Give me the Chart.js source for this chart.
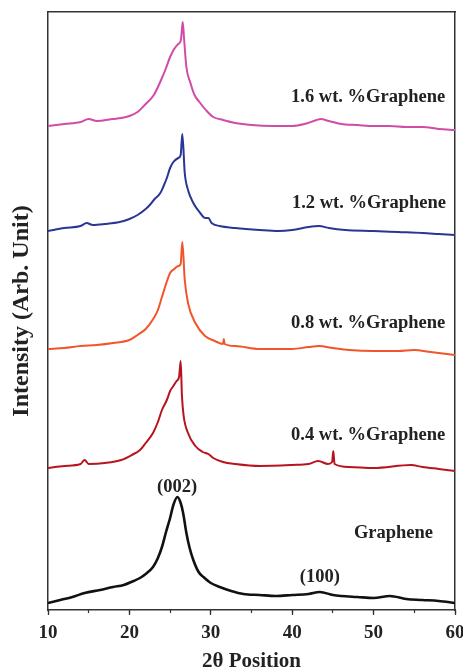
<!DOCTYPE html>
<html>
<head>
<meta charset="utf-8">
<script src="https://cdn.jsdelivr.net/npm/chart.js@4.4.1/dist/chart.umd.min.js"></script>
<style>
  html, body { margin: 0; padding: 0; background: #fff; }
</style>
</head>
<body>
<canvas id="xrdChart" width="463" height="672"></canvas>
<script>
// XRD patterns, stacked (arbitrary intensity units, offsets included)
const theta_16 = [10, 12, 14, 15, 16, 18, 19, 20, 21, 22, 23, 24, 24.5, 25, 25.5, 26, 26.3, 26.45, 26.55, 26.7, 27, 27.5, 28, 28.7, 29.5, 30.3, 31.5, 33, 35, 37.5, 40, 41.5, 43, 43.5, 44.5, 46, 48, 50, 52, 54, 56, 58, 60];
const int_16 = [484, 486, 488, 491, 489, 491, 492, 494, 498, 506, 515, 532, 542, 553, 561, 566, 569, 580, 588, 573, 543, 527, 515, 507, 499, 493, 490, 487, 485, 484, 484, 486, 490, 491, 489, 486, 485, 484, 484, 483, 483, 481, 480];

const theta_12 = [10, 12, 14, 14.75, 15.5, 17, 18.8, 20, 21, 22, 22.5, 23, 23.8, 24.2, 24.6, 25, 25.4, 26, 26.3, 26.5, 26.8, 27.2, 27.85, 28.7, 29.3, 29.7, 30.1, 31.1, 33, 36, 38.3, 40, 42, 43.3, 44.5, 46.5, 50, 53, 56, 58, 60];
const int_12 = [379, 382, 384, 387, 385, 386, 388, 391, 395, 401, 405, 410, 417, 424, 432, 442, 448, 452, 455, 476, 437, 420, 407, 397, 392, 392, 387, 384, 382, 380, 379, 380, 383, 384, 382, 380, 379, 378, 377, 376, 375];

const theta_08 = [10, 12, 14, 16, 18, 20, 21, 22, 23, 23.5, 24, 24.5, 25, 25.5, 26, 26.3, 26.5, 26.8, 27.2, 28.1, 29.3, 30.5, 31.5, 31.6, 31.7, 33, 36, 40, 42, 43.3, 45, 47, 50, 53, 55, 57, 60];
const int_08 = [261, 262, 264, 265, 267, 270, 275, 281, 292, 300, 313, 326, 337, 341, 344, 346, 368, 330, 307, 287, 274, 269, 266, 271, 266, 264, 261, 261, 263, 264, 262, 260, 259, 259, 260, 258, 255];

const theta_04 = [10, 12, 14, 14.5, 15, 17, 19, 20.3, 21.3, 22, 22.9, 23.5, 24, 24.6, 25, 25.4, 25.8, 26.1, 26.3, 26.45, 26.65, 27.2, 28.1, 29, 29.7, 30.3, 31.5, 33, 36, 40, 42, 43.2, 44.4, 44.9, 45.05, 45.2, 47, 50, 54.6, 56, 58, 60];
const int_04 = [142, 144, 146, 150, 146, 147, 150, 155, 160, 167, 177, 188, 200, 210, 219, 224, 229, 233, 249, 215, 195, 177, 164, 158, 156, 152, 148, 146, 144, 145, 146, 149, 146, 148, 159, 146, 143, 142, 145, 143, 141, 139];

const theta_g = [10, 11.5, 13, 14.5, 16.4, 18, 19.3, 20.5, 21.3, 22, 22.9, 23.5, 24, 24.5, 25, 25.4, 25.9, 26.3, 26.6, 27, 27.4, 27.85, 28.5, 29.1, 30, 31.1, 32.5, 34, 36, 38, 40, 42, 43.4, 45, 46, 48, 50, 52, 54, 56, 58, 60];
const int_g = [7, 10, 13, 17, 20, 23, 25, 29, 32, 36, 43, 52, 63, 78, 92, 105, 113, 107, 97, 77, 62, 50, 38, 33, 27, 23, 19, 16, 15, 14, 15, 16, 18, 15, 14, 13, 12, 14, 11, 10, 9, 7];

const xTicks = [10, 20, 30, 40, 50, 60];

// text placed on the plot (x, y in data units)
const notes = [
    { text: '1.6 wt. %Graphene', x: 58.8, y: 513, align: 'right' },
    { text: '1.2 wt. %Graphene', x: 58.9, y: 407, align: 'right' },
    { text: '0.8 wt. %Graphene', x: 58.8, y: 287, align: 'right' },
    { text: '0.4 wt. %Graphene', x: 58.8, y: 175, align: 'right' },
    { text: 'Graphene', x: 57.3, y: 77, align: 'right' },
    { text: '(002)', x: 25.85, y: 123, align: 'center' },
    { text: '(100)', x: 43.4, y: 33, align: 'center' }
];

function toPoints(xs, ys) {
    return xs.map(function(x, i) {
        return { x: x, y: ys[i] };
    });
}

function series(label, xs, ys, color, width) {
    return {
        label: label,
        data: toPoints(xs, ys),
        borderColor: color,
        backgroundColor: color,
        borderWidth: width,
        pointRadius: 0,
        cubicInterpolationMode: 'monotone',
        fill: false
    };
}

const serif = '"Liberation Serif", "Times New Roman", serif';

const notesPlugin = {
    id: 'notes',
    afterDatasetsDraw(chart) {
        const ctx = chart.ctx;
        const sx = chart.scales.x;
        const sy = chart.scales.y;
        ctx.save();
        ctx.fillStyle = '#222';
        ctx.font = 'bold 18.5px ' + serif;
        ctx.textBaseline = 'middle';
        notes.forEach(function(n) {
            ctx.textAlign = n.align;
            ctx.fillText(n.text, sx.getPixelForValue(n.x), sy.getPixelForValue(n.y));
        });
        ctx.restore();
    }
};

const frameAxis = {
    type: 'linear',
    grid: { display: false, drawTicks: false },
    ticks: { display: false },
    border: { display: true, color: '#333', width: 1.5 }
};

const canvas = document.getElementById('xrdChart');
const ctx = canvas.getContext('2d');
const config = {
    type: 'line',
    data: {
        datasets: [
            series('1.6 wt.% Graphene', theta_16, int_16, '#d04ca8', 2),
            series('1.2 wt.% Graphene', theta_12, int_12, '#2b3594', 2),
            series('0.8 wt.% Graphene', theta_08, int_08, '#f2552a', 2),
            series('0.4 wt.% Graphene', theta_04, int_04, '#b8141f', 2),
            series('Graphene', theta_g, int_g, '#111111', 2.6)
        ]
    },
    options: {
        responsive: false,
        animation: false,
        layout: { padding: { top: 12, right: 8, left: 0, bottom: 0 } },
        plugins: {
            legend: { display: false },
            tooltip: { enabled: false }
        },
        scales: {
            x: {
                type: 'linear',
                position: 'bottom',
                weight: 1,
                min: 10,
                max: 60,
                afterBuildTicks: function(scale) {
                    scale.ticks = xTicks.map(function(v) { return { value: v }; });
                },
                afterFit: function(scale) {
                    scale.height = 62;
                    scale.paddingLeft = 0;
                    scale.paddingRight = 0;
                },
                grid: { drawOnChartArea: false, tickLength: 5, tickColor: '#333', tickWidth: 1.3 },
                border: { display: true, color: '#333', width: 1.5 },
                ticks: {
                    padding: 7,
                    color: '#222',
                    font: { family: serif, size: 19, weight: 'bold' }
                },
                title: {
                    display: true,
                    text: '2θ Position',
                    color: '#222',
                    padding: { top: 0, bottom: 0 },
                    font: { family: serif, size: 21, weight: 'bold', lineHeight: 1 }
                }
            },
            xMinor: {
                type: 'linear',
                position: 'bottom',
                weight: 0,
                min: 10,
                max: 60,
                afterFit: function(scale) { scale.height = 0; },
                ticks: { display: false, stepSize: 5 },
                grid: { drawOnChartArea: false, tickLength: 3, tickColor: '#333', tickWidth: 1.2 },
                border: { display: false }
            },
            xTop: Object.assign({}, frameAxis, {
                position: 'top', min: 10, max: 60,
                afterFit: function(scale) { scale.height = 0; }
            }),
            yRight: Object.assign({}, frameAxis, {
                position: 'right', min: 0, max: 598,
                afterFit: function(scale) { scale.width = 0; }
            }),
            y: {
                type: 'linear',
                min: 0,
                max: 598,
                afterFit: function(scale) { scale.width = 48; },
                grid: { display: false, drawTicks: false },
                ticks: { display: false },
                border: { display: true, color: '#333', width: 1.5 },
                title: {
                    display: true,
                    text: 'Intensity (Arb. Unit)',
                    color: '#222',
                    padding: { top: 10, bottom: 0 },
                    font: { family: serif, size: 24, weight: 'bold', lineHeight: 1 }
                }
            }
        }
    },
    plugins: [notesPlugin]
};
const xrdChart = new Chart(ctx, config);
</script>
</body>
</html>
